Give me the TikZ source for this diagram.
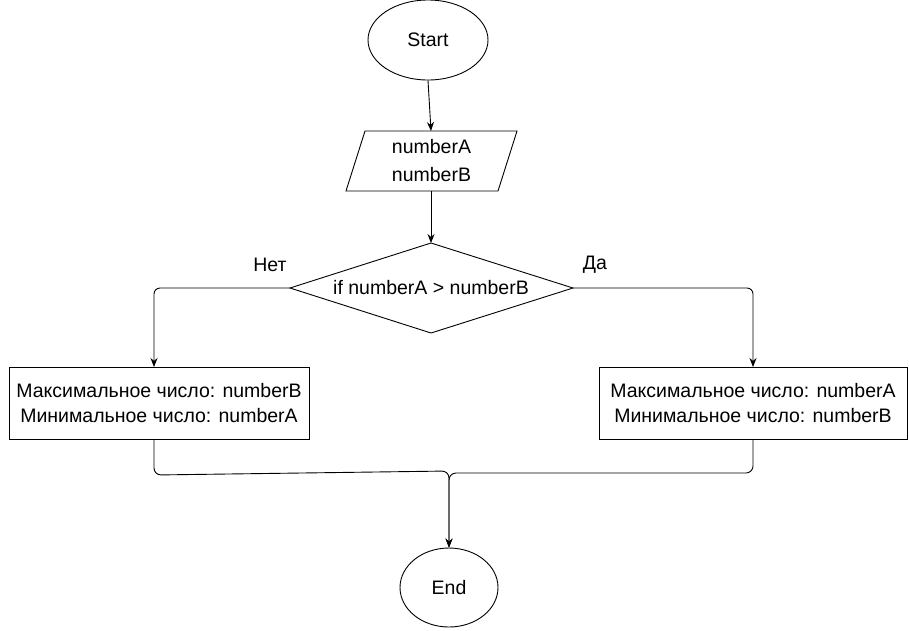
\documentclass[tikz,border=0pt]{standalone}
\usepackage{fontspec}
\setmainfont{Liberation Sans}
\usetikzlibrary{shapes.geometric,arrows.meta}
\begin{document}
\begin{tikzpicture}[x=1pt,y=-1pt,
  every node/.style={font=\fontsize{19.5}{25}\selectfont},
  line/.style={draw=black,line width=0.9pt},
  arr/.style={line,-{Stealth[length=9pt,width=7pt]}},
  term/.style={ellipse,draw,line width=0.9pt,inner sep=0pt},
  proc/.style={rectangle,draw,line width=0.9pt,inner sep=0pt,align=center},
  lbl/.style={inner sep=0pt}]
\useasboundingbox (0,0) rectangle (909,630);
% start
\node[term,minimum width=120pt,minimum height=80pt] (start) at (428,40) {Start};
% input parallelogram
\node[lbl,minimum width=132pt,minimum height=60pt,align=center,font=\fontsize{19.5}{28}\selectfont] (inp) at (431.5,161) {numberA\\numberB};
\draw[line] (365,131) -- (517,131) -- (498,191) -- (346,191) -- cycle;
\coordinate (inpT) at (431,131);
\coordinate (inpB) at (431,191);
% diamond
\coordinate (dT) at (431,243);
\coordinate (dL) at (290,288);
\coordinate (dR) at (573,288);
\coordinate (dB) at (431,333);
\draw[line] (dT) -- (dR) -- (dB) -- (dL) -- cycle;
\node[lbl] (cond) at (431,288) {if numberA > numberB};
\node[lbl] (no) at (270,265) {Нет};
\node[lbl] (yes) at (595,265) {Да};
% boxes
\node[proc,minimum width=300pt,minimum height=72pt] (lb) at (159,403) {Максимальное число: numberB\\Минимальное число: numberA};
\node[proc,minimum width=308pt,minimum height=72pt] (rb) at (753,403) {Максимальное число: numberA\\Минимальное число: numberB};
% end
\node[term,minimum width=98pt,minimum height=79pt] (end) at (449,587.5) {End};
% connectors
\draw[arr] (start.south) -- (inpT);
\draw[arr] (inpB) -- (dT);
\draw[arr,rounded corners=6pt] (dL) -- (154,288) -- (154,367);
\draw[arr,rounded corners=6pt] (dR) -- (753,288) -- (753,367);
\draw[arr,rounded corners=7pt] (154,439) -- (154,475) -- (449,471) -- (end.north);
\draw[arr,rounded corners=7pt] (753,439) -- (753,473) -- (449,473) -- (end.north);
\end{tikzpicture}
\end{document}
